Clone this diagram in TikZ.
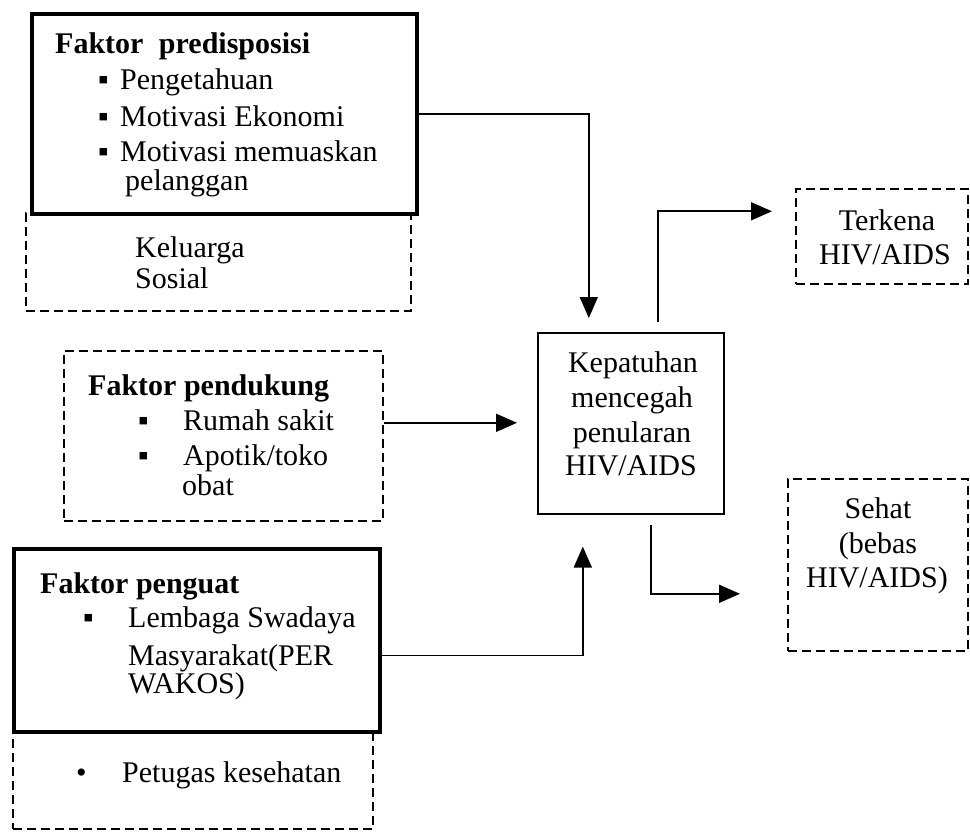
\documentclass[tikz,border=0pt]{standalone}
\usepackage{fontspec}
\setmainfont{Liberation Serif}
\usetikzlibrary{arrows.meta}
\begin{document}
\begin{tikzpicture}[x=1pt,y=-1pt,
  thickbox/.style={draw, line width=4pt, anchor=north west, inner sep=0pt},
  dashbox/.style={draw, line width=1.6pt, dash pattern=on 9pt off 5pt, anchor=north west, inner sep=0pt},
  thinbox/.style={draw, line width=1.6pt, anchor=north west, inner sep=0pt},
  txt/.style={anchor=base west, inner sep=0pt, font=\fontsize{30}{35}\selectfont},
  ctxt/.style={anchor=base, inner sep=0pt, font=\fontsize{30}{35}\selectfont},
  btxt/.style={anchor=base west, inner sep=0pt, font=\fontsize{30}{35}\selectfont\bfseries},
  arr/.style={line width=1.8pt, -{Triangle[length=21pt,width=18pt]}}]
\useasboundingbox (0,0) rectangle (970,832);

% boxes
\node[dashbox, minimum width=385pt, minimum height=98pt] (kel) at (25,212) {};
\node[thickbox, minimum width=385pt, minimum height=200pt] (p1) at (30,12) {};
\node[dashbox, minimum width=319pt, minimum height=170pt] (pd) at (63,350) {};
\node[dashbox, minimum width=360pt, minimum height=98pt] (pet) at (12,730) {};
\node[thickbox, minimum width=366pt, minimum height=183pt] (pg) at (12,547) {};
\node[thinbox, minimum width=186pt, minimum height=181pt] (k) at (537,332) {};
\node[dashbox, minimum width=172pt, minimum height=95pt] (t) at (795,188) {};
\node[dashbox, minimum width=180pt, minimum height=172pt] (s) at (787,478) {};

% texts: predisposisi
\node[btxt] (p1a) at (55,54) {Faktor\hspace{8pt} predisposisi};
\node[txt] (p1b0) at (98,90) {▪};
\node[txt] (p1b) at (120,90) {Pengetahuan};
\node[txt] (p1c0) at (98,127) {▪};
\node[txt] (p1c) at (120,127) {Motivasi Ekonomi};
\node[txt] (p1d0) at (98,162) {▪};
\node[txt] (p1d) at (120,162) {Motivasi memuaskan};
\node[txt] (p1e) at (125,191) {pelanggan};
\node[txt] (kela) at (135,257) {Keluarga};
\node[txt] (kelb) at (135,288) {Sosial};

% pendukung
\node[btxt] (pda) at (88,395) {Faktor pendukung};
\node[txt] (pdb0) at (138,430) {▪};
\node[txt] (pdb) at (183,430) {Rumah sakit};
\node[txt] (pdc0) at (138,465) {▪};
\node[txt] (pdc) at (183,465) {Apotik/toko};
\node[txt] (pdd) at (182,495) {obat};

% penguat
\node[btxt] (pga) at (40,593) {Faktor penguat};
\node[txt] (pgb0) at (83,627) {▪};
\node[txt] (pgb) at (128,627) {Lembaga Swadaya};
\node[txt] (pgc) at (128,665) {Masyarakat(PER};
\node[txt] (pgd) at (128,693) {WAKOS)};
\node[txt] (peta0) at (76,782) {•};
\node[txt] (peta) at (122,782) {Petugas kesehatan};

% center
\node[ctxt] (ka) at (633,372) {Kepatuhan};
\node[ctxt] (kb) at (632,407) {mencegah};
\node[ctxt] (kc) at (632,442) {penularan};
\node[ctxt] (kd) at (631,475) {HIV/AIDS};

% outcomes
\node[ctxt] (ta) at (887,230) {Terkena};
\node[ctxt] (tb) at (885,265) {HIV/AIDS};
\node[ctxt] (sa) at (878,518) {Sehat};
\node[ctxt] (sb) at (878,553) {(bebas};
\node[ctxt] (sc) at (877,587) {HIV/AIDS)};

% connectors
\draw[arr, shorten >=14pt] (p1.east) -| ([xshift=-42pt]k.north);
\draw[arr, shorten >=20pt] ([yshift=13pt]pd.east) -- ([yshift=13pt]pd.east -| k.west);
\draw[arr, shorten >=32pt] ([yshift=-15pt]pg.east) -| ([xshift=-48pt]k.south);
\draw[arr, shorten >=23pt] ([xshift=27pt,yshift=10pt]k.north) |- ([yshift=25pt]t.west);
\draw[arr, shorten >=47pt] ([xshift=20pt,yshift=-10pt]k.south) |- ([yshift=-29pt]s.west);
\end{tikzpicture}
\end{document}
